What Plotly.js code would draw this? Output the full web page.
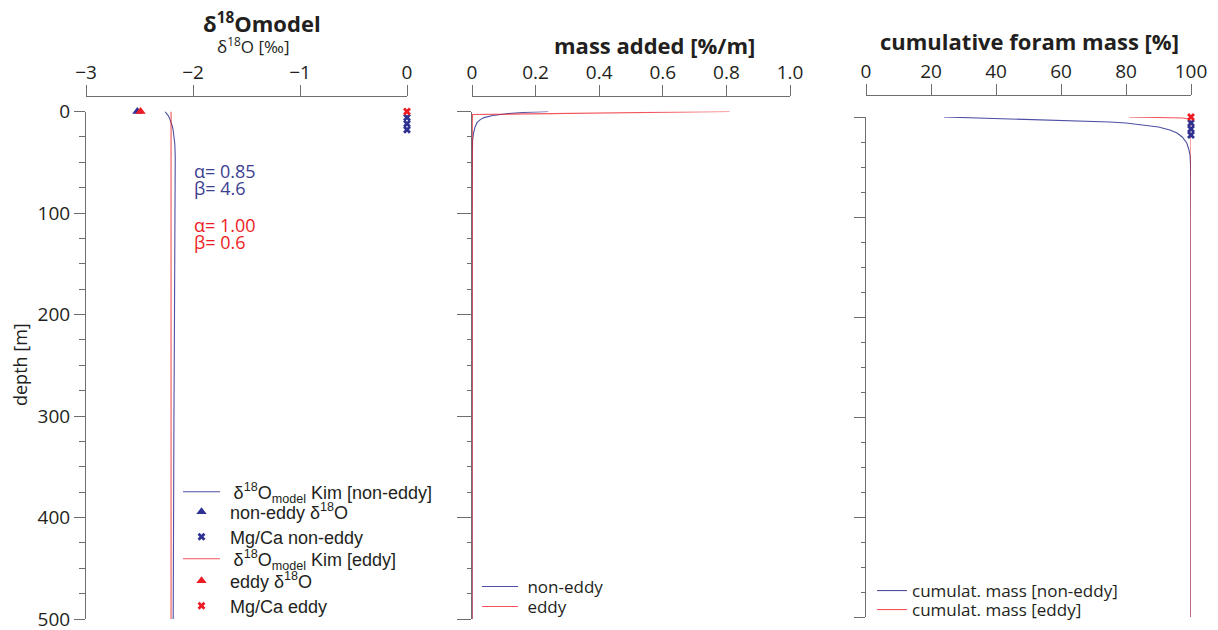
<!DOCTYPE html>
<html>
<head>
<meta charset="utf-8">
<script src="https://cdn.plot.ly/plotly-3.0.1.min.js"></script>
<style>
  html, body { margin: 0; padding: 0; background: #ffffff; overflow: hidden; }
  #chart { width: 1218px; height: 630px; }
</style>
</head>
<body>
<div id="chart"></div>
<script>
// ---- δ18O model profiles (panel 1) ----
const depthModelNonEddy = [0, 2, 4, 7, 10, 14, 18, 24, 32, 44, 60, 100, 150, 200, 300, 400, 500];
const d18oModelNonEddy  = [-2.262, -2.245, -2.232, -2.218, -2.206, -2.195, -2.186, -2.177, -2.170, -2.166, -2.166, -2.167, -2.170, -2.173, -2.178, -2.182, -2.185];
const depthModelEddy    = [0, 100, 200, 300, 400, 500];
const d18oModelEddy     = [-2.205, -2.205, -2.205, -2.205, -2.205, -2.205];

// measured δ18O (triangles) and Mg/Ca depths (crosses)
const d18oNonEddy = [-2.52];
const d18oEddy    = [-2.49];
const depthD18oNonEddy = [0];
const depthD18oEddy    = [0];
const depthMgCaNonEddy = [6, 12, 18];
const depthMgCaEddy    = [0];
const mgcaPanel1NonEddy = [0, 0, 0];
const mgcaPanel1Eddy    = [0];
const mgcaPanel3NonEddy = [100, 100, 100];
const mgcaPanel3Eddy    = [100];

// ---- mass added per metre (panel 2) ----
const depthMassNonEddy = [0, 0.5, 1, 2, 3, 4, 6, 8, 11, 15, 21, 28, 40, 60, 100, 200, 300, 400, 500];
const massNonEddy      = [0.24, 0.19, 0.16, 0.115, 0.085, 0.065, 0.038, 0.026, 0.016, 0.010, 0.005, 0.002, 0.001, 0.0005, 0.0002, 0.0001, 0.00005, 0.00003, 0.00002];
const depthMassEddy    = [0, 3, 10, 100, 500];
const massEddy         = [0.81, 0.002, 0.001, 0.0005, 0.0002];

// ---- cumulative foram mass (panel 3) ----
const depthCumNonEddy = [0, 1, 2, 3, 4, 5, 6, 8, 10, 13, 16, 20, 26, 32, 38, 50, 70, 100, 200, 300, 400, 500];
const cumNonEddy      = [24, 36, 48, 59, 68, 75, 80, 86, 90, 93.5, 95.7, 97.3, 98.7, 99.3, 99.7, 99.9, 99.97, 100, 100, 100, 100, 100];
const depthCumEddy    = [0, 1, 2, 4, 6, 100, 500];
const cumEddy         = [81, 97.5, 99.3, 99.9, 100, 100, 100];

// axis ticks
const depthTicks = [0, 100, 200, 300, 400, 500];
const d18oTicks  = [-3, -2, -1, 0];
const massTicks  = [0, 0.2, 0.4, 0.6, 0.8, 1.0];
const massTickText = ['0', '0.2', '0.4', '0.6', '0.8', '1.0'];
const cumTicks   = [0, 20, 40, 60, 80, 100];

const NAVY = 'rgb(46,49,146)';
const RED  = 'rgb(237,28,36)';
const INK  = '#231f20';
const AXIS = '#6d6e71';
const W = 1218, H = 630;
const px = v => v / W;
const py = v => 1 - v / H;
const NB = '\u00a0';
const THIN = '\u2009';

const lineNavy = { color: NAVY, width: 1.1 };
const lineRed  = { color: RED, width: 1.1 };

const traces = [
  // panel 1
  { x: d18oModelNonEddy, y: depthModelNonEddy, xaxis: 'x', yaxis: 'y', mode: 'lines', line: lineNavy, opacity: 0.85,
    name: NB + THIN + 'δ<sup>18</sup>O<sub>model</sub> Kim [non-eddy]', legend: 'legend', cliponaxis: false },
  { x: d18oModelEddy, y: depthModelEddy, xaxis: 'x', yaxis: 'y', mode: 'lines', line: lineRed, opacity: 0.75,
    name: NB + THIN + 'δ<sup>18</sup>O<sub>model</sub> Kim [eddy]', legend: 'legend4', cliponaxis: false },
  { x: d18oNonEddy, y: depthD18oNonEddy, xaxis: 'x', yaxis: 'y', mode: 'markers',
    marker: { symbol: 'triangle-up', size: 9, color: NAVY },
    name: NB + 'non-eddy δ<sup>18</sup>O', legend: 'legend2', cliponaxis: false },
  { x: d18oEddy, y: depthD18oEddy, xaxis: 'x', yaxis: 'y', mode: 'markers',
    marker: { symbol: 'triangle-up', size: 9, color: RED },
    name: NB + 'eddy δ<sup>18</sup>O', legend: 'legend5', cliponaxis: false },
  { x: mgcaPanel1NonEddy, y: depthMgCaNonEddy, xaxis: 'x', yaxis: 'y', mode: 'markers',
    marker: { symbol: 'x', size: 7, color: NAVY },
    name: NB + 'Mg/Ca non-eddy', legend: 'legend3', cliponaxis: false },
  { x: mgcaPanel1Eddy, y: depthMgCaEddy, xaxis: 'x', yaxis: 'y', mode: 'markers',
    marker: { symbol: 'x', size: 7, color: RED },
    name: NB + 'Mg/Ca eddy', legend: 'legend6', cliponaxis: false },

  // panel 2
  { x: massNonEddy, y: depthMassNonEddy, xaxis: 'x2', yaxis: 'y2', mode: 'lines', line: lineNavy, opacity: 0.85,
    name: NB + 'non-eddy', legend: 'legend7', cliponaxis: false },
  { x: massEddy, y: depthMassEddy, xaxis: 'x2', yaxis: 'y2', mode: 'lines', line: lineRed, opacity: 0.75,
    name: NB + 'eddy', legend: 'legend8', cliponaxis: false },

  // panel 3
  { x: cumNonEddy, y: depthCumNonEddy, xaxis: 'x3', yaxis: 'y3', mode: 'lines', line: lineNavy, opacity: 0.85,
    name: 'cumulat. mass [non-eddy]', legend: 'legend9', cliponaxis: false },
  { x: cumEddy, y: depthCumEddy, xaxis: 'x3', yaxis: 'y3', mode: 'lines', line: lineRed, opacity: 0.75,
    name: 'cumulat. mass [eddy]', legend: 'legend10', cliponaxis: false },
  { x: mgcaPanel3NonEddy, y: depthMgCaNonEddy, xaxis: 'x3', yaxis: 'y3', mode: 'markers',
    marker: { symbol: 'x', size: 7, color: NAVY }, showlegend: false, cliponaxis: false },
  { x: mgcaPanel3Eddy, y: depthMgCaEddy, xaxis: 'x3', yaxis: 'y3', mode: 'markers',
    marker: { symbol: 'x', size: 7, color: RED }, showlegend: false, cliponaxis: false }
];

const tickFont = { family: 'Open Sans', size: 19, color: INK };

function topAxis(domain, range, tickvals, ticktext, posPx) {
  const ax = {
    domain: domain, range: range, side: 'top', anchor: 'free', position: py(posPx),
    showline: true, linecolor: AXIS, linewidth: 1,
    ticks: 'outside', ticklen: 11, tickcolor: AXIS, tickwidth: 1,
    tickmode: 'array', tickvals: tickvals, ticklabelstandoff: -2, ticklabeloverflow: 'allow',
    showgrid: false, zeroline: false, tickfont: tickFont, fixedrange: true
  };
  if (ticktext) ax.ticktext = ticktext;
  return ax;
}

function depthAxis(domain, anchor, majorLen, minorLen, labels) {
  return {
    domain: domain, range: [500, 0], anchor: anchor,
    showline: true, linecolor: AXIS, linewidth: 1, layer: 'below traces',
    ticks: 'outside', ticklen: majorLen, tickcolor: AXIS, tickwidth: 1,
    tickmode: 'array', tickvals: depthTicks, showticklabels: labels, ticklabeloverflow: 'allow',
    minor: { tickmode: 'linear', tick0: 0, dtick: 25, ticks: 'outside', ticklen: minorLen, tickcolor: AXIS, tickwidth: 1, showgrid: false },
    showgrid: false, zeroline: false, tickfont: tickFont, fixedrange: true
  };
}

// one single-entry legend per item so each row sits at its own height
function legendAt(xPx, yPx, itemwidth, family, size) {
  return {
    x: px(xPx), y: py(yPx), xanchor: 'left', yanchor: 'middle',
    bgcolor: 'rgba(0,0,0,0)', borderwidth: 0, itemwidth: itemwidth,
    font: { family: family, size: size, color: INK }
  };
}

const layout = {
  width: W, height: H,
  margin: { l: 0, r: 0, t: 0, b: 0, autoexpand: false },
  paper_bgcolor: '#ffffff', plot_bgcolor: 'rgba(0,0,0,0)',
  font: { family: 'Open Sans', color: INK },
  showlegend: true,

  xaxis:  topAxis([px(86), px(407)], [-3, 0], d18oTicks, null, 96),
  yaxis:  depthAxis([py(619), py(111.5)], 'x', 11, 6, true),
  xaxis2: topAxis([px(472), px(790)], [0, 1], massTicks, massTickText, 95.5),
  yaxis2: depthAxis([py(619), py(111.5)], 'x2', 14, 4, false),
  xaxis3: topAxis([px(866), px(1191)], [0, 100], cumTicks, null, 94.5),
  yaxis3: depthAxis([py(617), py(117)], 'x3', 11, 4.5, false),

  legend:   legendAt(178, 492, 37, 'Liberation Sans', 18),
  legend2:  legendAt(178, 512, 37, 'Liberation Sans', 18),
  legend3:  legendAt(178, 537, 37, 'Liberation Sans', 18),
  legend4:  legendAt(178, 559, 37, 'Liberation Sans', 18),
  legend5:  legendAt(178, 581, 37, 'Liberation Sans', 18),
  legend6:  legendAt(178, 606, 37, 'Liberation Sans', 18),
  legend7:  legendAt(477, 587, 36, 'Open Sans', 17),
  legend8:  legendAt(477, 607, 36, 'Open Sans', 17),
  legend9:  legendAt(872, 591, 30, 'Open Sans', 17),
  legend10: legendAt(872, 610, 30, 'Open Sans', 17),

  annotations: [
    { text: '<b>δ<sup>18</sup>Omodel</b>', x: px(262), y: py(23), xref: 'paper', yref: 'paper',
      showarrow: false, xanchor: 'center', yanchor: 'middle', font: { size: 22, color: INK } },
    { text: 'δ<sup>18</sup>O [‰]', x: px(253), y: py(46), xref: 'paper', yref: 'paper',
      showarrow: false, xanchor: 'center', yanchor: 'middle', font: { size: 17, color: INK } },
    { text: '<b>mass added [%/m]</b>', x: px(654), y: py(45), xref: 'paper', yref: 'paper',
      showarrow: false, xanchor: 'center', yanchor: 'middle', font: { size: 22, color: INK } },
    { text: '<b>cumulative foram mass [%]</b>', x: px(1029.5), y: py(41), xref: 'paper', yref: 'paper',
      showarrow: false, xanchor: 'center', yanchor: 'middle', font: { size: 22, color: INK } },
    { text: 'depth [m]', x: px(20), y: py(365), xref: 'paper', yref: 'paper', textangle: -90,
      showarrow: false, xanchor: 'center', yanchor: 'middle', font: { size: 18, color: INK } },
    { text: 'α= 0.85', x: px(192), y: py(171), xref: 'paper', yref: 'paper',
      showarrow: false, xanchor: 'left', yanchor: 'middle', font: { size: 18, color: 'rgb(60,62,145)' } },
    { text: 'β= 4.6', x: px(192), y: py(188), xref: 'paper', yref: 'paper',
      showarrow: false, xanchor: 'left', yanchor: 'middle', font: { size: 18, color: 'rgb(60,62,145)' } },
    { text: 'α= 1.00', x: px(192), y: py(225), xref: 'paper', yref: 'paper',
      showarrow: false, xanchor: 'left', yanchor: 'middle', font: { size: 18, color: RED } },
    { text: 'β= 0.6', x: px(192), y: py(242), xref: 'paper', yref: 'paper',
      showarrow: false, xanchor: 'left', yanchor: 'middle', font: { size: 18, color: RED } }
  ]
};

Plotly.newPlot('chart', traces, layout, { displayModeBar: false, staticPlot: true });
</script>
</body>
</html>
